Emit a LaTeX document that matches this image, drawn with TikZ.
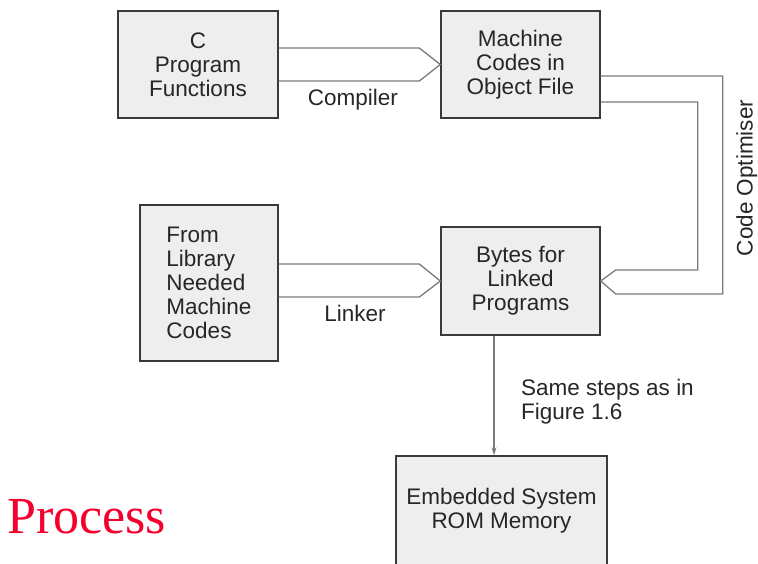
\documentclass[tikz,border=0pt]{standalone}
\usepackage{fontspec}
\setmainfont{Liberation Sans}
\newfontfamily\serifproc{Liberation Serif}
\usetikzlibrary{arrows.meta,calc}
\definecolor{boxfill}{HTML}{EEEEEE}
\definecolor{boxline}{HTML}{3A3A3A}
\definecolor{arrline}{HTML}{7A7A7A}
\definecolor{procred}{HTML}{F5002E}
\begin{document}
\begin{tikzpicture}[x=1pt,y=-1pt,
  blk/.style={draw=boxline,fill=boxfill,line width=1.4pt,inner sep=0pt,
    font=\fontsize{22.5}{24}\selectfont,text=black!85},
  arr/.style={draw=arrline,line width=1.3pt,line join=miter},
  lbl/.style={font=\fontsize{22.5}{24}\selectfont,text=black!85,inner sep=0pt}]
\useasboundingbox (0,0) rectangle (758,563);
\begin{scope}
\clip (0,0) rectangle (758,563);
% boxes
\node[blk,minimum width=160pt,minimum height=107pt,align=center] (c) at (198,64.5) {C\\Program\\Functions};
\node[blk,minimum width=159pt,minimum height=107pt,align=center] (m) at (520.5,64.5) {Machine\\Codes in\\Object File};
\node[blk,minimum width=138pt,minimum height=156pt,align=left] (l) at (209,283) {From\\Library\\Needed\\Machine\\Codes};
\node[blk,minimum width=159pt,minimum height=108pt,align=center] (b) at (520.5,281) {Bytes for\\Linked\\Programs};
\node[blk,minimum width=211pt,minimum height=110pt,align=center] (e) at (501.5,511) {Embedded System\\ROM Memory};
% compiler arrow
\draw[arr] ([yshift=16.5pt]c.east) -- ([xshift=-21pt,yshift=16.5pt]m.west) -- (m.west)
  -- ([xshift=-21pt,yshift=-16.5pt]m.west) -- ([yshift=-16.5pt]c.east);
\node[lbl] (tc) at (353,100) {Compiler};
% linker arrow
\draw[arr] ([yshift=17pt]l.east |- b.west) -- ([xshift=-21pt,yshift=17pt]b.west) -- (b.west)
  -- ([xshift=-21pt,yshift=-16pt]b.west) -- ([yshift=-16pt]l.east |- b.west);
\node[lbl] (tl) at (355,313) {Linker};
% code optimiser arrow
\draw[arr] ([yshift=-11.5pt]m.east) -- ++(122,0) |- ([xshift=15pt,yshift=-13pt]b.east) -- (b.east)
  -- ([xshift=15pt,yshift=11pt]b.east) -| ([xshift=97pt,yshift=-37.5pt]m.east) -- ([yshift=-37.5pt]m.east);
\node[lbl,rotate=90,anchor=base] (to) at (752.5,178) {Code Optimiser};
% down arrow
\draw[draw=arrline,line width=1.1pt,-{Stealth[length=8pt,width=5pt]}] ([xshift=-26.5pt]b.south) -- ([xshift=-26.5pt]b.south |- e.north);
\node[lbl,align=left,anchor=north west] (ts) at (521,379) {Same steps as in\\Figure 1.6};
% Process
\node[font=\serifproc\fontsize{52}{58}\selectfont,text=procred,anchor=base west,inner sep=0pt] (p) at (7,533) {Process};
\end{scope}
\end{tikzpicture}
\end{document}
